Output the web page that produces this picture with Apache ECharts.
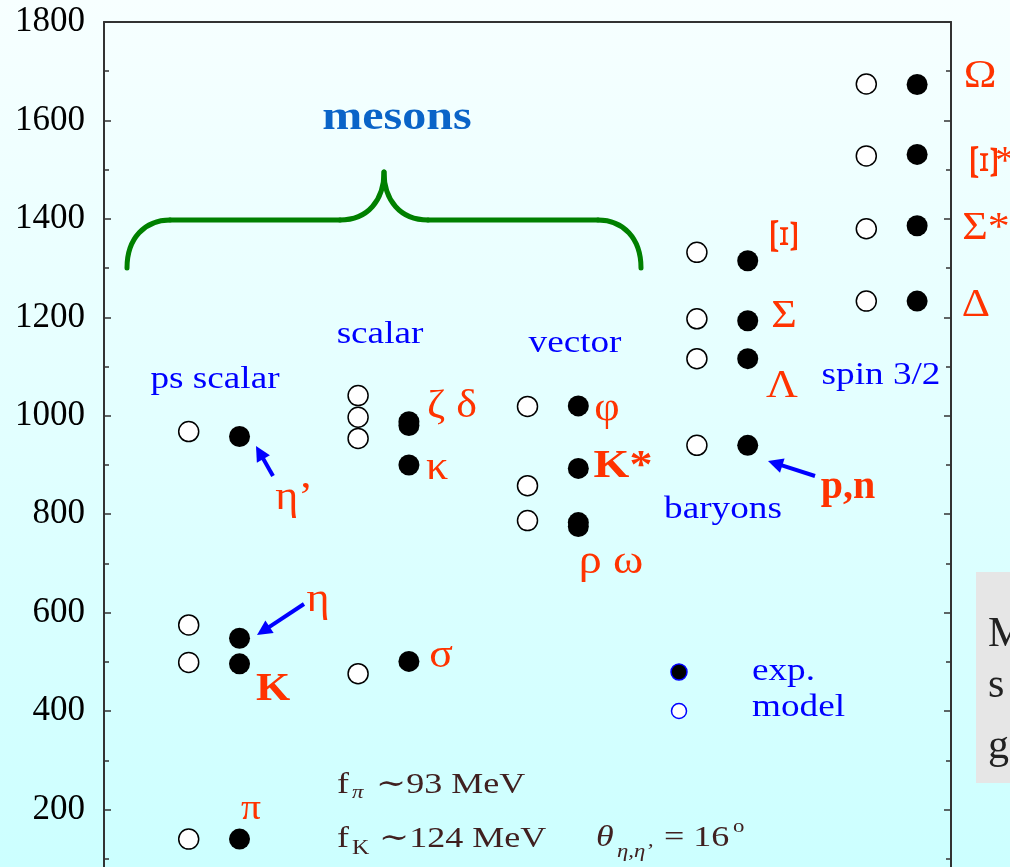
<!DOCTYPE html>
<html>
<head>
<meta charset="utf-8">
<script src="https://cdn.jsdelivr.net/npm/echarts@6/dist/echarts.min.js"></script>
<style>
html,body{margin:0;padding:0;width:1010px;height:867px;overflow:hidden;}
#c{width:1010px;height:867px;}
</style>
</head>
<body>
<div id="c"></div>
<script>
// ---- data ----
const groups = ['ps scalar', 'scalar', 'vector', 'baryons', 'spin 3/2'];
const modelX = [5, 15, 25, 35, 45];
const expX = [8, 18, 28, 38, 48];
const modelMass = [
  [968, 575, 499, 140],
  [1041, 997, 954, 476],
  [1019, 858, 787],
  [1332, 1197, 1116, 940],
  [1674, 1528, 1380, 1233]
];
const expMass = [
  [958, 548, 496, 140],
  [988, 980, 900, 501],
  [1020, 893, 783, 775],
  [1315, 1193, 1116, 940],
  [1673, 1531, 1386, 1233]
];
const yMin = 0, yMax = 1800, yStep = 200;

// ---- build ----
const modelData = [], expData = [];
groups.forEach((g, i) => {
  modelMass[i].forEach(m => modelData.push([modelX[i], m]));
  expMass[i].forEach(m => expData.push([expX[i], m]));
});

const SERIF = '"Liberation Serif", "DejaVu Serif", serif';
const RED = '#ff3300', BLUE = '#0000ff', BROWN = '#402020', GREEN = '#008000';

function txt(text, x, y, size, color, extra) {
  extra = extra || {};
  return Object.assign({
    type: 'text', x: x, y: y, z: 50, scaleX: extra.sx || 1,
    style: {
      text: text, fill: color,
      font: (extra.italic ? 'italic ' : '') + (extra.weight || 'normal') + ' ' + size + 'px ' + SERIF,
      align: extra.align || 'center', verticalAlign: extra.va || 'middle'
    }
  }, extra.el || {});
}
function arrow(x1, y1, x2, y2) {
  const dx = x2 - x1, dy = y2 - y1, L = Math.hypot(dx, dy), ux = dx / L, uy = dy / L;
  const hl = 15, hw = 7.5;
  const bx = x2 - ux * hl, by = y2 - uy * hl;
  return [
    {type: 'line', z: 40, shape: {x1: x1, y1: y1, x2: bx + ux * 2, y2: by + uy * 2}, style: {stroke: BLUE, lineWidth: 4}},
    {type: 'polygon', z: 40, shape: {points: [[x2, y2], [bx - uy * hw, by + ux * hw], [bx + uy * hw, by - ux * hw]]}, style: {fill: BLUE}}
  ];
}
function bez(x1, y1, cx1, cy1, cx2, cy2, x2, y2) {
  return {type: 'bezierCurve', z: 30, shape: {x1: x1, y1: y1, cpx1: cx1, cpy1: cy1, cpx2: cx2, cpy2: cy2, x2: x2, y2: y2},
    style: {stroke: GREEN, lineWidth: 5, fill: null, lineCap: 'round'}};
}
function seg(x1, y1, x2, y2) {
  return {type: 'line', z: 30, shape: {x1: x1, y1: y1, x2: x2, y2: y2}, style: {stroke: GREEN, lineWidth: 5, lineCap: 'round'}};
}
const S = 1.2;

const graphics = [
  // brace
  bez(127, 268, 127, 238, 145, 220, 170, 220),
  seg(170, 220, 340, 220),
  bez(340, 220, 368, 220, 384, 200, 384, 172),
  bez(384, 172, 384, 200, 400, 220, 428, 220),
  seg(428, 220, 598, 220),
  bez(598, 220, 623, 220, 641, 238, 641, 268),
  txt('mesons', 397, 119, 40, '#0a64c8', {weight: 'bold', sx: S}),
  // group labels
  txt('ps scalar', 215, 380, 31, BLUE, {sx: S}),
  txt('scalar', 380, 335, 31, BLUE, {sx: S}),
  txt('vector', 575, 344, 31, BLUE, {sx: S}),
  txt('baryons', 723, 510, 31, BLUE, {sx: S}),
  txt('spin 3/2', 881, 376, 31, BLUE, {sx: S}),
  // particle labels
  txt('η’', 294, 498, 40, RED, {sx: 1.1}),
  txt('η', 318, 600, 40, RED, {sx: 1.1}),
  txt('K', 273, 690, 40, RED, {weight: 'bold', sx: 1.1}),
  txt('π', 251, 810, 36, RED, {sx: 1.1}),
  txt('ζ δ', 452, 406, 40, RED, {sx: 1.1}),
  txt('κ', 437, 468, 40, RED, {sx: 1.1}),
  txt('σ', 441, 656, 40, RED, {sx: 1.1}),
  txt('φ', 607, 409, 40, RED, {sx: 1.1}),
  txt('K*', 623, 467, 40, RED, {weight: 'bold', sx: 1.15}),
  txt('ρ ω', 611, 562, 40, RED, {sx: 1.15}),
  txt('Ξ', 781, 236, 40, RED, {sx: 1.5, el: {rotation: -Math.PI / 2}}),
  txt('Σ', 784, 316, 40, RED, {sx: 1.1}),
  txt('Λ', 782, 386, 40, RED, {sx: 1.1}),
  txt('p,n', 848, 488, 40, RED, {weight: 'bold'}),
  txt('Ω', 980, 76, 40, RED, {sx: 1.1}),
  txt('Ξ', 981, 162, 40, RED, {sx: 1.5, el: {rotation: -Math.PI / 2}}),
  txt('*', 1005, 162, 40, RED),
  txt('Σ*', 986, 228, 40, RED, {sx: 1.1}),
  txt('Δ', 976, 305, 40, RED, {sx: 1.1}),
  ...arrow(273, 476, 256, 446),
  ...arrow(304, 604, 257, 635),
  ...arrow(815, 476, 768, 461),
  // legend
  {type: 'circle', z: 40, shape: {cx: 679, cy: 672, r: 8}, style: {fill: '#000', stroke: BLUE, lineWidth: 1.5}},
  {type: 'circle', z: 40, shape: {cx: 679, cy: 711, r: 7.5}, style: {fill: '#fff', stroke: BLUE, lineWidth: 1.5}},
  txt('exp.', 752, 672, 31, BLUE, {align: 'left', sx: S}),
  txt('model', 752, 708, 31, BLUE, {align: 'left', sx: S}),
  // formula text
  txt('f', 337, 800, 30, BROWN, {align: 'left', va: 'bottom', sx: S}),
  txt('π', 352, 802, 19, BROWN, {align: 'left', va: 'bottom', italic: true, sx: S}),
  txt('∼93 MeV', 376, 800, 30, BROWN, {align: 'left', va: 'bottom', sx: S}),
  txt('f', 337, 854, 30, BROWN, {align: 'left', va: 'bottom', sx: S}),
  txt('K', 352, 859, 20, BROWN, {align: 'left', va: 'bottom', sx: S}),
  txt('∼124 MeV', 379, 854, 30, BROWN, {align: 'left', va: 'bottom', sx: S}),
  txt('θ', 596, 853, 30, BROWN, {align: 'left', va: 'bottom', italic: true, sx: S}),
  txt('η,η’', 617, 861, 19, BROWN, {align: 'left', va: 'bottom', italic: true, sx: S}),
  txt('= 16', 664, 853, 30, BROWN, {align: 'left', va: 'bottom', sx: S}),
  txt('o', 733, 837, 19, BROWN, {align: 'left', va: 'bottom', sx: S}),
  // side box
  {type: 'rect', z: 20, shape: {x: 976, y: 572, width: 40, height: 211}, style: {fill: '#e6e6e6'}},
  txt('M', 988, 656, 42, '#222', {align: 'left', va: 'bottom'}),
  txt('s', 988, 707, 42, '#222', {align: 'left', va: 'bottom'}),
  txt('g', 988, 768, 42, '#222', {align: 'left', va: 'bottom'})
];

const yAxisBase = {
  type: 'value', min: yMin, max: yMax, interval: yStep,
  axisLine: {show: true, onZero: false, lineStyle: {color: '#333', width: 2}},
  axisTick: {show: true, inside: true, length: 7, lineStyle: {color: '#333', width: 1.5}},
  minorTick: {show: true, splitNumber: 2, length: 5, lineStyle: {color: '#333', width: 1.5}},
  splitLine: {show: false}
};

const chart = echarts.init(document.getElementById('c'));
chart.setOption({
  animation: false,
  backgroundColor: {type: 'linear', x: 0, y: 0, x2: 0, y2: 1,
    colorStops: [{offset: 0, color: '#f7ffff'}, {offset: 0.5, color: '#e2ffff'}, {offset: 1, color: '#ccffff'}]},
  grid: {left: 104, right: 59, top: 22, bottom: -41, containLabel: false, outerBoundsMode: 'none'},
  xAxis: {type: 'value', min: 0, max: 50, position: 'top',
    axisLine: {show: true, onZero: false, lineStyle: {color: '#333', width: 2}},
    axisTick: {show: false}, axisLabel: {show: false}, splitLine: {show: false}},
  yAxis: [
    Object.assign({}, yAxisBase, {position: 'left',
      axisLabel: {show: true, margin: 19, color: '#000', fontSize: 35, fontFamily: SERIF, formatter: v => String(v)}}),
    Object.assign({}, yAxisBase, {position: 'right', axisLabel: {show: false}})
  ],
  series: [
    {name: 'model', type: 'scatter', data: modelData, symbol: 'circle', symbolSize: 20,
     itemStyle: {color: '#ffffff', opacity: 1, borderColor: '#000', borderWidth: 1.5}, z: 10},
    {name: 'exp.', type: 'scatter', data: expData, symbol: 'circle', symbolSize: 21,
     itemStyle: {color: '#000', opacity: 1}, z: 11}
  ],
  graphic: graphics
});
</script>
</body>
</html>
